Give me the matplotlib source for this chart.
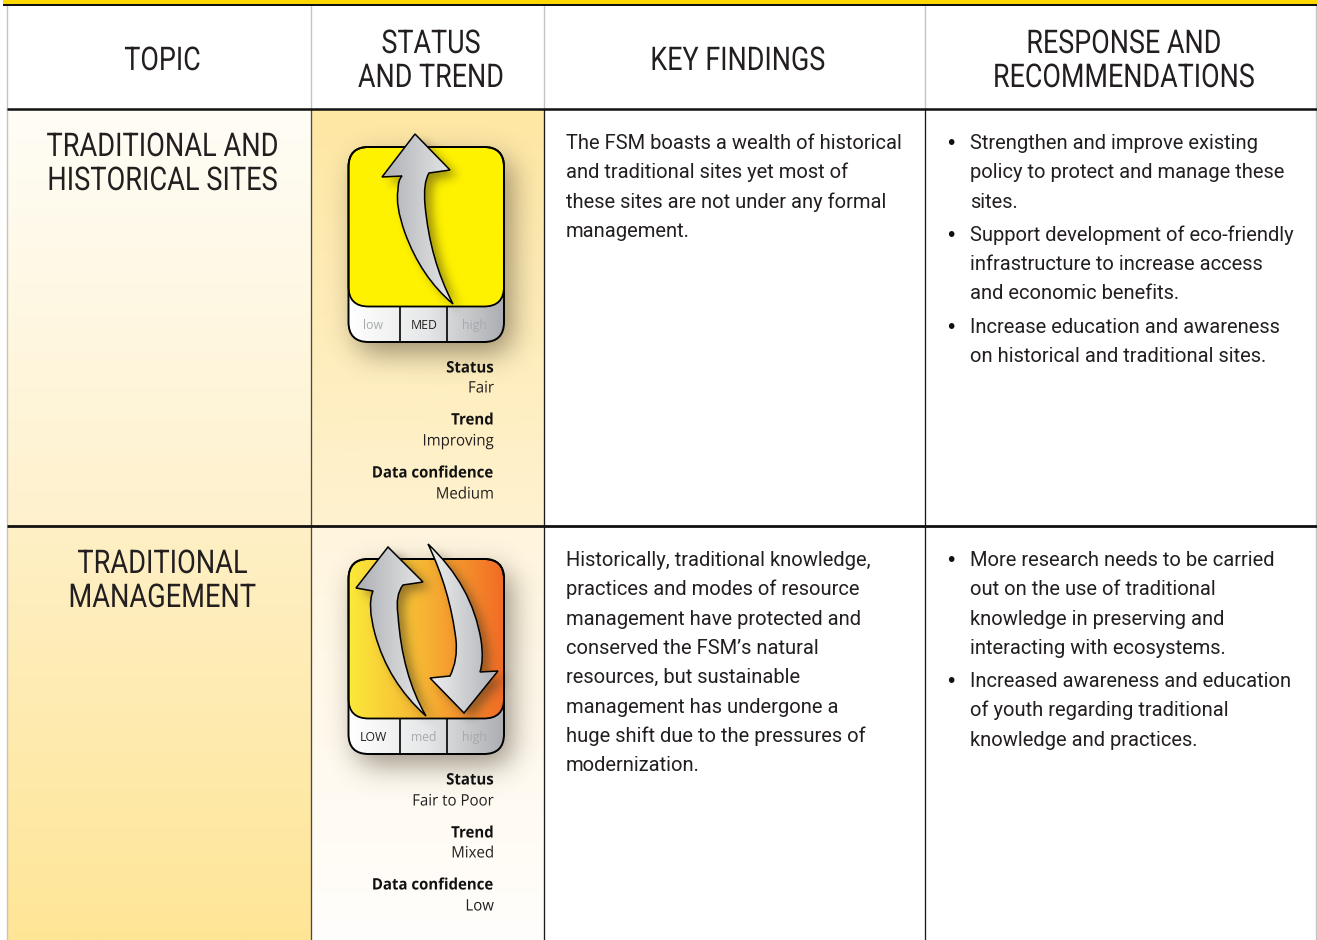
import numpy as np
import matplotlib
matplotlib.use('Agg')
import matplotlib.pyplot as plt
from matplotlib.colors import LinearSegmentedColormap, to_rgb
from matplotlib.patches import FancyBboxPatch, PathPatch, Rectangle
from matplotlib.path import Path
from matplotlib.patheffects import AbstractPathEffect
from matplotlib.transforms import Affine2D

# table content
headers = [['TOPIC'], ['STATUS', 'AND TREND'], ['KEY FINDINGS'], ['RESPONSE AND', 'RECOMMENDATIONS']]
topics = [['TRADITIONAL AND', 'HISTORICAL SITES'], ['TRADITIONAL', 'MANAGEMENT']]
status = ['Fair', 'Fair to Poor']
trend = ['Improving', 'Mixed']
confidence = ['Medium', 'Low']
active_level = ['MED', 'LOW']
levels = ['low', 'med', 'high']
findings = [
    ['The FSM boasts a wealth of historical', 'and traditional sites yet most of',
     'these sites are not under any formal', 'management.'],
    ['Historically, traditional knowledge,', 'practices and modes of resource',
     'management have protected and', 'conserved the FSM\u2019s natural',
     'resources, but sustainable', 'management has undergone a',
     'huge shift due to the pressures of', 'modernization.'],
]
responses = [
    [['Strengthen and improve existing', 'policy to protect and manage these', 'sites.'],
     ['Support development of eco-friendly', 'infrastructure to increase access', 'and economic benefits.'],
     ['Increase education and awareness', 'on historical and traditional sites.']],
    [['More research needs to be carried', 'out on the use of traditional',
      'knowledge in preserving and', 'interacting with ecosystems.'],
     ['Increased awareness and education', 'of youth regarding traditional', 'knowledge and practices.']],
]

W, H = 1317, 940
col_x = [7, 311, 544, 925, 1316]
row_y = [109, 526, 940]
INK = '#231F20'

fig = plt.figure(figsize=(W / 100, H / 100), dpi=100)
ax = fig.add_axes([0, 0, 1, 1])
ax.set_xlim(0, W)
ax.set_ylim(H, 0)
ax.axis('off')


class Condense(AbstractPathEffect):
    # squeezes text sideways around x, there is no narrow font to use
    def __init__(self, x, factor):
        super().__init__()
        self.x = x * fig.dpi / 100
        self.factor = factor

    def draw_path(self, renderer, gc, tpath, affine, rgbFace=None):
        squeeze = Affine2D().translate(-self.x, 0).scale(self.factor, 1).translate(self.x, 0)
        renderer.draw_path(gc, tpath, affine + squeeze, rgbFace)


def gradient(x0, y0, x1, y1, colors, vertical=True, clip=None, z=1):
    cmap = LinearSegmentedColormap.from_list('g', colors)
    g = np.linspace(0, 1, 256)
    g = g[:, None] if vertical else g[None, :]
    im = ax.imshow(g, extent=(x0, x1, y1, y0), cmap=cmap, vmin=0, vmax=1,
                   aspect='auto', zorder=z, interpolation='bilinear')
    if clip is not None:
        im.set_clip_path(clip, transform=ax.transData)
    return im


def rounded(x0, y0, x1, y1, r):
    p = FancyBboxPatch((x0 + r, y0 + r), x1 - x0 - 2 * r, y1 - y0 - 2 * r,
                       boxstyle='round,pad=%f,rounding_size=%f' % (r, r))
    return p.get_path().transformed(p.get_transform())


def shadow(path, dx, dy, sigma, alpha, z, color='#3a3020'):
    # blurred copy of the outline, drawn as an rgba image
    box = path.get_extents()
    pad = int(sigma * 3) + 2
    x0, y0 = int(box.x0 + dx - pad), int(box.y0 + dy - pad)
    x1, y1 = int(box.x1 + dx + pad), int(box.y1 + dy + pad)
    xs, ys = np.meshgrid(np.arange(x0, x1) + .5 - dx, np.arange(y0, y1) + .5 - dy)
    pts = np.c_[xs.ravel(), ys.ravel()]
    mask = path.to_polygons(closed_only=True)
    inside = Path(mask[0]).contains_points(pts).reshape(xs.shape).astype(float)
    k = np.exp(-0.5 * (np.arange(-pad, pad + 1) / sigma) ** 2)
    k /= k.sum()
    inside = np.apply_along_axis(lambda v: np.convolve(v, k, mode='same'), 0, inside)
    inside = np.apply_along_axis(lambda v: np.convolve(v, k, mode='same'), 1, inside)
    rgba = np.zeros(inside.shape + (4,))
    rgba[..., :3] = to_rgb(color)
    rgba[..., 3] = inside * alpha
    ax.imshow(rgba, extent=(x0, x1, y1, y0), aspect='auto', zorder=z, interpolation='bilinear')


def arrow_path(verts):
    # verts: first point, then ('L', p) or ('C', ctrl, p)
    v, c = [verts[0]], [Path.MOVETO]
    for seg in verts[1:]:
        if seg[0] == 'L':
            v.append(seg[1])
            c.append(Path.LINETO)
        else:
            v += [seg[1], seg[2]]
            c += [Path.CURVE3, Path.CURVE3]
    v.append(verts[0])
    c.append(Path.CLOSEPOLY)
    return Path(v, c)


def draw_arrow(verts, colors, z):
    p = arrow_path(verts)
    shadow(p, 7, 6, 5, .5, z)
    b = p.get_extents()
    gradient(b.x0, b.y0, b.x1, b.y1, colors, vertical=False, clip=p, z=z + .1)
    ax.add_patch(PathPatch(p, fc='none', ec='black', lw=1.1, zorder=z + .2, joinstyle='miter'))


# outlines of the trend arrows
arrow_up_1 = [(415, 134), ('L', (450, 170)), ('L', (429, 173)), ('C', (423, 183), (425, 205)),
              ('C', (430, 260), (453, 304)), ('C', (421, 277), (405, 233)),
              ('C', (395, 205), (398, 190)), ('C', (398, 180), (402, 176)), ('L', (382, 177))]
arrow_up_2 = [(388, 547), ('L', (423, 582)), ('L', (403, 585)), ('C', (395, 595), (398, 615)),
              ('C', (402, 675), (426, 716)), ('C', (388, 682), (375, 634)),
              ('C', (367, 605), (373, 591)), ('L', (356, 588))]
arrow_down_2 = [(428, 544), ('C', (472, 585), (481, 640)), ('C', (484, 660), (480, 672)),
                ('L', (498, 671)), ('L', (464, 713)), ('L', (430, 678)), ('L', (450, 676)),
                ('C', (458, 660), (456, 640)), ('C', (450, 590), (428, 544))]

# top band
ax.add_patch(Rectangle((3, 0), W - 3, 4, fc='#FFD800', ec='none', zorder=5))
ax.add_patch(Rectangle((3, 4), W - 3, 2, fc='#111111', ec='none', zorder=5))

# cell backgrounds
gradient(col_x[0], row_y[0], col_x[1], row_y[1], ['#FFFDF6', '#FEF1CC'])
gradient(col_x[0], row_y[1], col_x[1], row_y[2], ['#FFF0C6', '#FEE596'])
gradient(col_x[1], row_y[0], col_x[2], row_y[1], ['#FEE7A3', '#FEF2CF'])
gradient(col_x[1], row_y[1], col_x[2], row_y[2], ['#FFF5DE', '#FFFEFC'])

# grid
for i, x in enumerate(col_x):
    x = x - 0.5
    ax.plot([x, x], [6, row_y[0]], color='#C4C4C4', lw=1.0, zorder=4)
    if i in (0, 4):
        ax.plot([x, x], [row_y[0], H], color='#C4C4C4', lw=1.0, zorder=4)
    else:
        ax.plot([x, x], [row_y[0], H], color={1: '#4A4A40', 2: '#1A1A1A', 3: '#1A1A1A'}[i], lw=0.95, zorder=4)
ax.plot([col_x[0], W], [row_y[0], row_y[0]], color='#111111', lw=1.8, zorder=5, solid_capstyle='butt')
ax.plot([col_x[0], W], [row_y[1], row_y[1]], color='#111111', lw=2.0, zorder=5, solid_capstyle='butt')

# headers
centers = [(col_x[i] + col_x[i + 1]) / 2 + 3.5 for i in range(4)]
for cx, lines in zip(centers, headers):
    base = [70] if len(lines) == 1 else [53, 87]
    for y, s in zip(base, lines):
        ax.text(cx, y, s, family='Roboto', fontsize=23.5, color=INK, ha='center', va='baseline', zorder=6,
                path_effects=[Condense(cx, 0.825)])

for r, top in enumerate(row_y[:2]):
    # topic title
    for i, s in enumerate(topics[r]):
        ax.text(centers[0], top + 47 + i * 34, s, family='Roboto', fontsize=23.5, color=INK,
                ha='center', va='baseline', zorder=6, path_effects=[Condense(centers[0], 0.834)])

    # gauge
    gy = top + 38 if r == 0 else top + 33
    gx0, gx1 = 348.5, 504
    body = rounded(gx0, gy, gx1, gy + 195, 20)
    shadow(body, 8, 11, 14, .5, 2)
    panel = rounded(gx0, gy, gx1, gy + 159.5, 20)
    gradient(gx0, gy + 120, gx1, gy + 195, ['#FFFFFF', '#E6E7E8', '#ACADB1'], vertical=False, clip=body, z=2.2)
    if r == 0:
        ax.add_patch(PathPatch(panel, fc='#FFF200', ec='none', zorder=2.3))
    else:
        gradient(gx0, gy, gx1, gy + 160, ['#FBE93A', '#F6B233', '#F26A25'], vertical=False, clip=panel, z=2.3)
    ax.add_patch(PathPatch(panel, fc='none', ec='black', lw=1.3, zorder=2.4))
    ax.add_patch(PathPatch(body, fc='none', ec='black', lw=1.4, zorder=2.4))
    for dx in (400, 447):
        ax.plot([dx, dx], [gy + 160, gy + 195], color='black', lw=1.2, zorder=2.4, solid_capstyle='butt')
    for lx, lev in zip((373.5, 424, 474.5), levels):
        on = lev.upper() == active_level[r]
        ax.text(lx, gy + 182, lev.upper() if on else lev, family='Open Sans', fontsize=8.8,
                color='#231F20' if on else '#A7A9AC', ha='center', va='baseline', zorder=3)

    if r == 0:
        draw_arrow(arrow_up_1, ['#AEAFB3', '#E6E7E8'], 3.2)
    else:
        draw_arrow(arrow_up_2, ['#AEAFB3', '#E6E7E8'], 3.2)
        draw_arrow(arrow_down_2, ['#F0F1F2', '#B0B1B5'], 3.5)

    # status block
    block = [('Status', status[r]), ('Trend', trend[r]), ('Data confidence', confidence[r])]
    offs = [(263.5, 283.5), (315.5, 336.5), (368.5, 389.5)] if r == 0 else [(258.5, 279.5), (311.5, 331.5), (363.5, 384.5)]
    for (label, val), (y0, y1) in zip(block, offs):
        ax.text(494, top + y0, label, family='Open Sans', fontweight='bold', fontsize=11.4, color='#111111',
                ha='right', va='baseline', zorder=6, path_effects=[Condense(494, 0.945)])
        ax.text(494, top + y1, val, family='Open Sans', fontsize=11.4, color=INK,
                ha='right', va='baseline', zorder=6, path_effects=[Condense(494, 0.95)])

    # findings
    for i, s in enumerate(findings[r]):
        ax.text(566, top + 40 + i * 29.33, s, family='Roboto', fontsize=14.5, color=INK,
                ha='left', va='baseline', zorder=6)

    # recommendations
    y = top + 40
    for item in responses[r]:
        ax.text(951, y, '\u2022', family='DejaVu Sans', fontsize=14, color='#111111',
                ha='center', va='baseline', zorder=6)
        for s in item:
            ax.text(970, y, s, family='Roboto', fontsize=14.5, color=INK, ha='left', va='baseline', zorder=6)
            y += 29.33
        y += 3.8

ax.set_xlim(0, W)
ax.set_ylim(H, 0)
fig.savefig('out.png', dpi=100)
plt.close(fig)
